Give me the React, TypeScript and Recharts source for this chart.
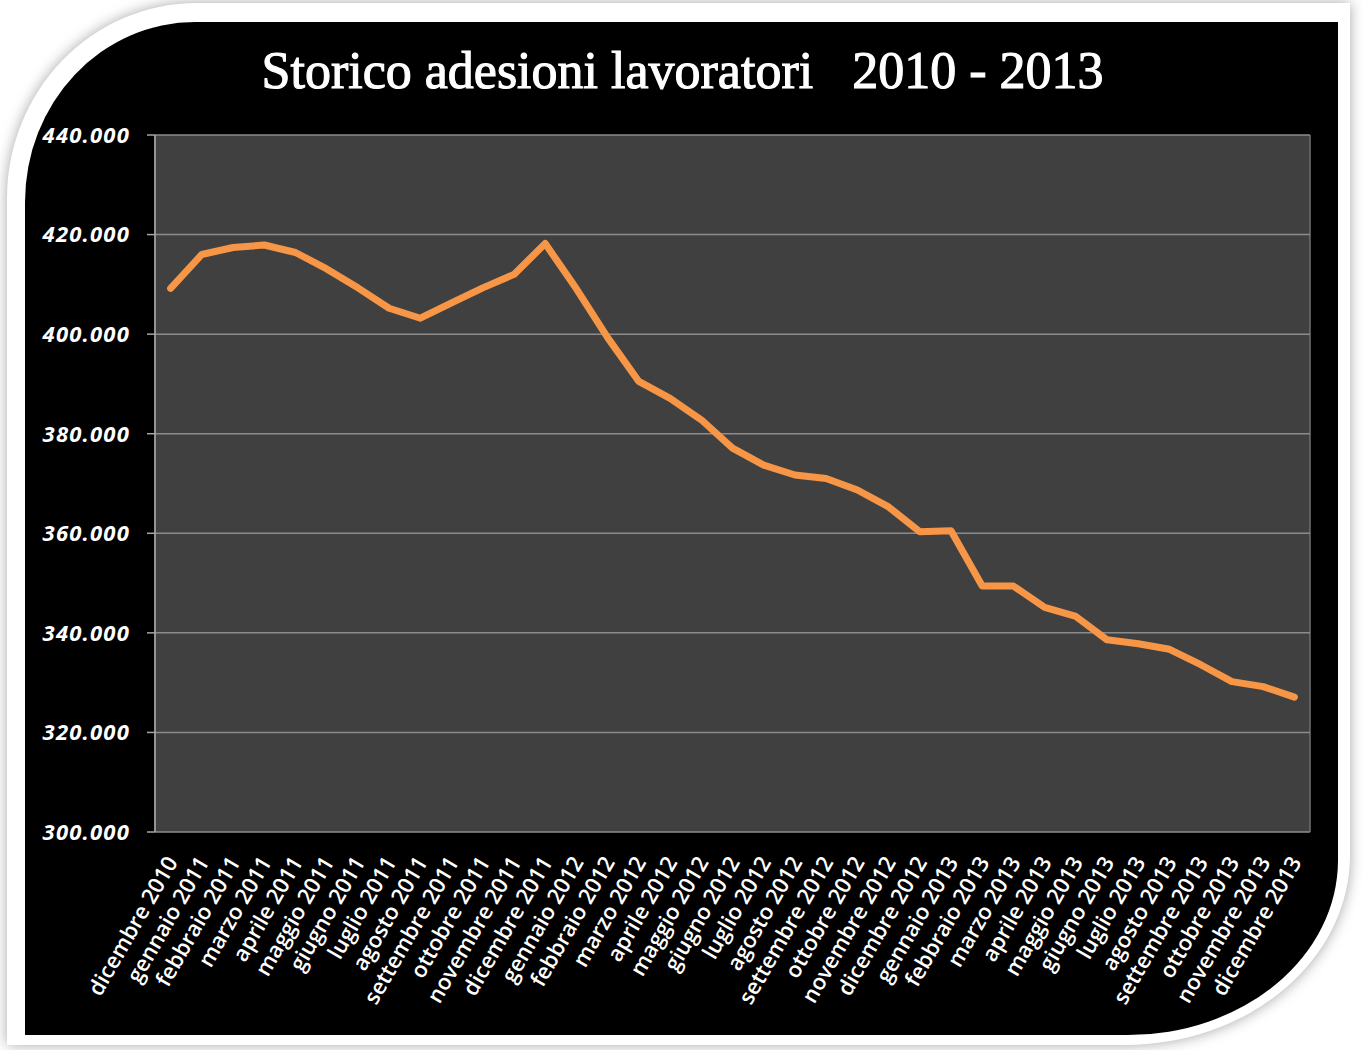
import React from 'react';
import { LineChart, Line, XAxis, YAxis, CartesianGrid } from 'recharts';

const months: string[] = [
  'dicembre 2010', 'gennaio 2011', 'febbraio 2011', 'marzo 2011', 'aprile 2011', 'maggio 2011',
  'giugno 2011', 'luglio 2011', 'agosto 2011', 'settembre 2011', 'ottobre 2011', 'novembre 2011',
  'dicembre 2011', 'gennaio 2012', 'febbraio 2012', 'marzo 2012', 'aprile 2012', 'maggio 2012',
  'giugno 2012', 'luglio 2012', 'agosto 2012', 'settembre 2012', 'ottobre 2012', 'novembre 2012',
  'dicembre 2012', 'gennaio 2013', 'febbraio 2013', 'marzo 2013', 'aprile 2013', 'maggio 2013',
  'giugno 2013', 'luglio 2013', 'agosto 2013', 'settembre 2013', 'ottobre 2013', 'novembre 2013',
  'dicembre 2013',
];

const adesioni: number[] = [
  409200, 416000, 417400, 417900, 416400, 413100, 409300, 405200, 403200, 406300, 409300, 412000,
  418200, 409100, 399300, 390500, 387100, 382800, 377100, 373700, 371700, 371000, 368700, 365300,
  360300, 360500, 349400, 349400, 345100, 343300, 338600, 337800, 336700, 333600, 330200, 329200,
  327100,
];

const yTicks: number[] = [300000, 320000, 340000, 360000, 380000, 400000, 420000, 440000];
const gridBoundaries: number[] = Array.from({ length: months.length + 1 }, (_, i) => i);

const data = months.map((m, i) => ({ month: m, idx: i + 0.5, value: adesioni[i] }));

const fmt = (v: number) => {
  const s = Math.round(v).toString();
  return s.replace(/\B(?=(\d{3})+(?!\d))/g, '.');
};

const XTick = (props: any) => {
  const { x, y, payload } = props;
  const ax = x + 8;
  const ay = y + 30;
  return (
    <text
      x={ax}
      y={ay}
      transform={`rotate(-60 ${ax} ${ay})`}
      textAnchor="end"
      fill="#ffffff"
      fontFamily="'Open Sans', sans-serif"
      fontSize={22}
      fontWeight={600}
    >
      {payload.value}
    </text>
  );
};

export default function App() {
  return (
    <div style={{ position: 'absolute', left: 0, top: 0, width: 1365, height: 1050, background: '#ffffff', overflow: 'hidden' }}>
      <div
        style={{
          position: 'absolute', left: 7, top: 3, width: 1343, height: 1042, background: '#ffffff',
          borderRadius: '190px 0 225px 0 / 195px 0 190px 0',
          boxShadow: '0 0 14px rgba(0,0,0,0.35)',
        }}
      />
      <div
        style={{
          position: 'absolute', left: 25, top: 22, width: 1313, height: 1013, background: '#000000',
          borderRadius: '170px 0 210px 0 / 180px 0 175px 0',
        }}
      />
      <div
        style={{
          position: 'absolute', left: 0, top: 45, width: 1365, textAlign: 'center', color: '#ffffff',
          fontFamily: "'Liberation Serif', serif", fontSize: 52, lineHeight: '52px', whiteSpace: 'pre',
          WebkitTextStroke: '1.1px #ffffff',
        }}
      >
        {'Storico adesioni lavoratori   2010 - 2013'}
      </div>
      <div style={{ position: 'absolute', left: 0, top: 0 }}>
        <LineChart width={1365} height={1050} data={data} margin={{ top: 135, right: 55, left: 0, bottom: 18 }}>
          <XAxis
            xAxisId="grid"
            type="number"
            dataKey="idx"
            domain={[0, months.length]}
            ticks={gridBoundaries}
            interval={0}
            tick={false}
            tickSize={8}
            tickLine={{ stroke: '#a6a6a6', strokeWidth: 1.5 }}
            axisLine={{ stroke: '#a6a6a6', strokeWidth: 1.5 }}
            height={0}
            allowDataOverflow
          />
          <XAxis
            xAxisId="cat"
            dataKey="month"
            scale="band"
            interval={0}
            tick={<XTick />}
            tickLine={false}
            axisLine={false}
            tickSize={0}
            tickMargin={0}
            height={200}
          />
          <YAxis
            type="number"
            domain={[300000, 440000]}
            ticks={yTicks}
            interval={0}
            width={155}
            tickFormatter={fmt}
            tickSize={8}
            tickMargin={17}
            tickLine={{ stroke: '#a6a6a6', strokeWidth: 1.5 }}
            axisLine={{ stroke: '#a6a6a6', strokeWidth: 1.5 }}
            tick={{ fill: '#ffffff', fontFamily: "'Open Sans', sans-serif", fontSize: 22, fontWeight: 700, fontStyle: 'italic', letterSpacing: 1.2 }}
          />
          <CartesianGrid
            xAxisId="grid"
            fill="#404040"
            stroke="#6f6f6f"
            strokeWidth={1.5}
            horizontal={false}
          />
          <CartesianGrid
            xAxisId="grid"
            stroke="#8c8c8c"
            strokeWidth={1.5}
            vertical={false}
          />
          <Line
            xAxisId="cat"
            type="linear"
            dataKey="value"
            stroke="#F79646"
            strokeWidth={7}
            strokeLinejoin="round"
            strokeLinecap="round"
            dot={false}
            activeDot={false}
            isAnimationActive={false}
          />
        </LineChart>
      </div>
    </div>
  );
}
